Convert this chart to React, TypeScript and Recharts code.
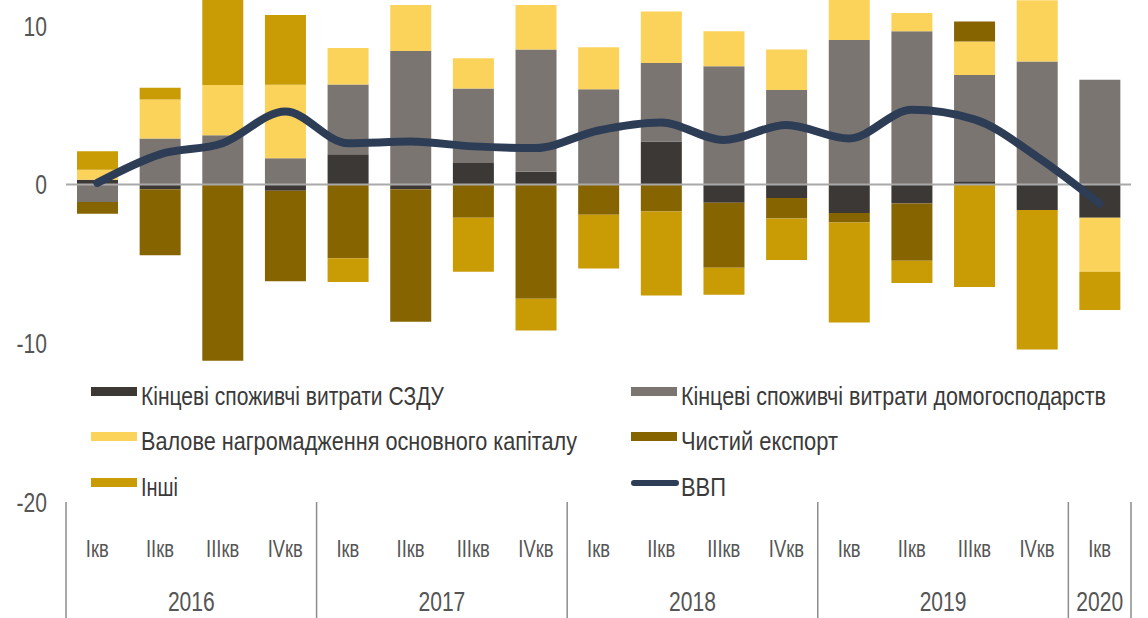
import React from 'react';
import { ComposedChart, Bar, Line, XAxis, YAxis, ReferenceLine, Legend } from 'recharts';

// ---- data ----
const quarters = ['Ікв', 'ІІкв', 'ІІІкв', 'IVкв', 'Ікв', 'ІІкв', 'ІІІкв', 'IVкв', 'Ікв', 'ІІкв', 'ІІІкв', 'IVкв', 'Ікв', 'ІІкв', 'ІІІкв', 'IVкв', 'Ікв'];
const years = ['2016', '2017', '2018', '2019', '2020'];
const yearStarts = [0, 4, 8, 12, 16];
const yearSpans = [4, 4, 4, 4, 1];

const govCons = [0.3, -0.3, 0, -0.4, 1.9, -0.3, 1.35, 0.8, 0, 2.7, -1.15, -0.85, -1.8, -1.2, 0.2, -1.6, -2.1];
const hhCons = [-1.1, 2.9, 3.1, 1.65, 4.4, 8.4, 4.7, 7.7, 6.0, 4.95, 7.45, 5.95, 9.1, 9.65, 6.7, 7.75, 6.6];
const gfcf = [0.63, 2.45, 3.16, 4.63, 2.3, 2.9, 1.9, 2.8, 2.65, 3.25, 2.2, 2.55, 2.7, 1.15, 2.1, 3.85, -3.4];
const netExports = [-0.75, -4.15, -11.1, -5.7, -4.65, -8.35, -2.1, -7.2, -1.9, -1.7, -4.1, -1.3, -0.6, -3.6, 1.27, 0, 0];
const other = [1.16, 0.75, 5.6, 4.4, -1.5, 0, -3.4, -2.0, -3.4, -5.3, -1.7, -2.6, -6.3, -1.4, -6.45, -8.8, -2.4];
const gdp = [0.1, 1.9, 2.6, 4.6, 2.6, 2.7, 2.4, 2.3, 3.4, 3.9, 2.8, 3.75, 2.9, 4.7, 4.1, 1.75, -1.2];

const seriesNames = [
  'Кінцеві споживчі витрати СЗДУ',
  'Кінцеві споживчі витрати домогосподарств',
  'Валове нагромадження основного капіталу',
  'Чистий експорт',
  'Інші',
  'ВВП',
];
const yTicks = [-20, -10, 0, 10];

const data = quarters.map((q, i) => ({
  idx: i,
  q,
  gov: govCons[i],
  hh: hhCons[i],
  gfcf: gfcf[i],
  nx: netExports[i],
  other: other[i],
  gdp: gdp[i],
}));

// ---- styles ----
const W = 1148;
const H = 618;
const PLOT_LEFT = 66;
const PLOT_RIGHT = 1131;
const PLOT_BOTTOM = 502;
const BAND = (PLOT_RIGHT - PLOT_LEFT) / quarters.length;
const FONT = "'Liberation Sans', Arial, sans-serif";
const LEGEND_SX = 0.85;

const C = {
  gov: '#3b3835',
  hh: '#7b7571',
  gfcf: '#fbd35a',
  nx: '#866400',
  other: '#c99b04',
  gdp: '#2e3d56',
  text: '#3a3a3a',
  tick: '#555555',
  divider: '#8c8c8c',
  zero: '#a9a9a9',
};

// text drawn in a horizontally condensed style (like Arial Narrow)
const NarrowText = ({ x, y, size, anchor, fill, sx, len, children }: any) => (
  <text
    transform={`translate(${x},${y}) scale(${sx},1)`}
    x={0}
    y={0}
    textAnchor={anchor}
    fontFamily={FONT}
    fontSize={size}
    fill={fill}
    textLength={len ? len / sx : undefined}
    lengthAdjust={len ? 'spacingAndGlyphs' : undefined}
  >
    {children}
  </text>
);

const XTick = (props: any) => {
  const { x, payload } = props;
  const i = Number(payload.value);
  const els: any[] = [];
  els.push(
    <NarrowText key="q" x={x} y={557} size={23} anchor="middle" fill={C.tick} sx={0.8}>
      {quarters[i]}
    </NarrowText>
  );
  const yi = yearStarts.indexOf(i);
  if (yi >= 0) {
    const left = x - BAND / 2;
    els.push(<line key="d" x1={left} x2={left} y1={PLOT_BOTTOM} y2={H} stroke={C.divider} strokeWidth={1.5} />);
    els.push(
      <NarrowText key="y" x={left + (yearSpans[yi] * BAND) / 2} y={611} size={27} anchor="middle" fill={C.tick} sx={0.78}>
        {years[yi]}
      </NarrowText>
    );
  }
  if (i === quarters.length - 1) {
    const right = x + BAND / 2;
    els.push(<line key="r" x1={right} x2={right} y1={PLOT_BOTTOM} y2={H} stroke={C.divider} strokeWidth={1.5} />);
  }
  return <g>{els}</g>;
};

const YTick = (props: any) => {
  const { y, payload } = props;
  return (
    <NarrowText x={47} y={y + 10} size={27} anchor="end" fill={C.tick} sx={0.78}>
      {payload.value}
    </NarrowText>
  );
};

const legendItems = [
  { name: seriesNames[0], color: C.gov, kind: 'rect', x: 91, base: 405, len: 303 },
  { name: seriesNames[2], color: C.gfcf, kind: 'rect', x: 91, base: 450, len: 436 },
  { name: seriesNames[4], color: C.other, kind: 'rect', x: 91, base: 496, len: 37 },
  { name: seriesNames[1], color: C.hh, kind: 'rect', x: 631, base: 405, len: 425 },
  { name: seriesNames[3], color: C.nx, kind: 'rect', x: 631, base: 450, len: 157 },
  { name: seriesNames[5], color: C.gdp, kind: 'line', x: 631, base: 496, len: 45 },
];

const LegendContent = () => (
  <svg width={W} height={H} style={{ position: 'absolute', left: 0, top: 0, pointerEvents: 'none' }}>
    {legendItems.map((it) => (
      <g key={it.name}>
        {it.kind === 'rect' ? (
          <rect x={it.x} y={it.base - 18} width={46} height={9} fill={it.color} />
        ) : (
          <line x1={it.x + 3} x2={it.x + 45} y1={it.base - 13} y2={it.base - 13} stroke={it.color} strokeWidth={6} strokeLinecap="round" />
        )}
        <NarrowText x={it.x + 50} y={it.base} size={25} anchor="start" fill={C.text} sx={LEGEND_SX} len={it.len}>
          {it.name}
        </NarrowText>
      </g>
    ))}
  </svg>
);

export default function App() {
  return (
    <div style={{ position: 'absolute', left: 0, top: 0, width: W, height: H, background: '#ffffff' }}>
      <ComposedChart
        width={W}
        height={H}
        data={data}
        stackOffset="sign"
        margin={{ top: 0, right: W - PLOT_RIGHT, bottom: 0, left: 0 }}
      >
        <XAxis
          dataKey="idx"
          type="category"
          height={H - PLOT_BOTTOM}
          axisLine={false}
          tickLine={false}
          interval={0}
          tick={<XTick />}
        />
        <YAxis
          width={PLOT_LEFT}
          domain={[-20, 11.62]}
          ticks={yTicks}
          allowDataOverflow
          axisLine={false}
          tickLine={false}
          tick={<YTick />}
        />
        <ReferenceLine y={0} stroke={C.zero} strokeWidth={2} />
        <Bar dataKey="gov" name={seriesNames[0]} stackId="s" fill={C.gov} barSize={41} isAnimationActive={false} />
        <Bar dataKey="hh" name={seriesNames[1]} stackId="s" fill={C.hh} barSize={41} isAnimationActive={false} />
        <Bar dataKey="gfcf" name={seriesNames[2]} stackId="s" fill={C.gfcf} barSize={41} isAnimationActive={false} />
        <Bar dataKey="nx" name={seriesNames[3]} stackId="s" fill={C.nx} barSize={41} isAnimationActive={false} />
        <Bar dataKey="other" name={seriesNames[4]} stackId="s" fill={C.other} barSize={41} isAnimationActive={false} />
        <Line
          dataKey="gdp"
          name={seriesNames[5]}
          type="monotone"
          stroke={C.gdp}
          strokeWidth={8}
          strokeLinecap="round"
          strokeLinejoin="round"
          dot={false}
          isAnimationActive={false}
        />
        <Legend
          layout="horizontal"
          verticalAlign="middle"
          align="center"
          wrapperStyle={{ left: 0, top: 0, width: W, height: H, pointerEvents: 'none' }}
          content={<LegendContent />}
        />
      </ComposedChart>
    </div>
  );
}
